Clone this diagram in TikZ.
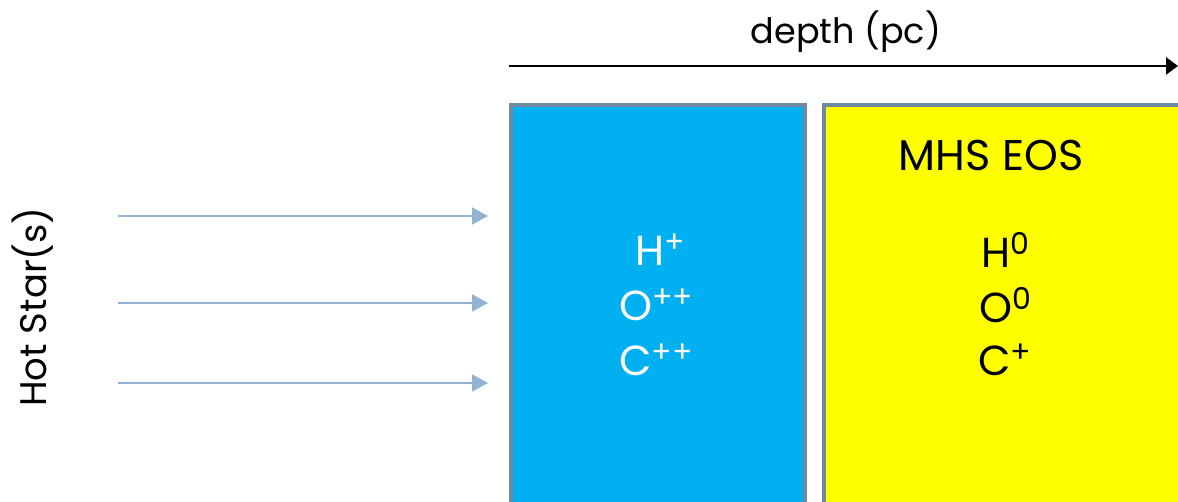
\documentclass[tikz,border=0pt]{standalone}
\usepackage{fontspec}
\setmainfont{Poppins}
\usetikzlibrary{arrows.meta}
\definecolor{layerblue}{HTML}{00B0F0}
\definecolor{layeryellow}{HTML}{FFFF00}
\definecolor{layeredge}{HTML}{6F8AA0}
\definecolor{raycol}{HTML}{93B3D3}
\newcommand{\chg}[1]{\raisebox{13pt}{\fontsize{30}{33}\fontseries{l}\selectfont #1}}
\tikzset{
  layer/.style={draw=layeredge, line width=4pt},
  ray/.style={draw=raycol, line width=2pt, -{Triangle[length=16pt,width=17pt]}},
  axis/.style={draw=black, line width=2.5pt, -{Triangle[length=12pt,width=17pt]}},
  lbl/.style={font=\fontsize{35}{40}\selectfont, inner sep=0pt},
  ion/.style={font=\fontsize{42}{47}\selectfont, inner sep=0pt, align=center},
}
\begin{document}
\begin{tikzpicture}[x=1pt, y=-1pt]
\useasboundingbox (0,0) rectangle (1178,501);
\clip (0,0) rectangle (1178,501);
% ionised and neutral layers
\path[layer, fill=layerblue] (511,105) rectangle (805,540);
\path[layer, fill=layeryellow] (824,105) rectangle (1220,540);
% depth axis
\coordinate (ax0) at (509,66);
\coordinate (ax1) at (1178,66);
\draw[axis] (ax0) -- (ax1);
\node[lbl] (depth) at (846,32) {depth (pc)};
% source label and incoming radiation
\node[lbl, font=\fontsize{37}{42}\selectfont, rotate=90] (star) at (33,307) {Hot Star(s)};
\coordinate (r1a) at (118,216); \coordinate (r1b) at (488,216);
\coordinate (r2a) at (118,303); \coordinate (r2b) at (488,303);
\coordinate (r3a) at (118,383); \coordinate (r3b) at (488,383);
\draw[ray] (r1a) -- (r1b);
\draw[ray] (r2a) -- (r2b);
\draw[ray] (r3a) -- (r3b);
% ion species
\node[ion, text=white] (hii) at (660,250) {H\chg{+}};
\node[ion, text=white] (oiii) at (656,305) {O\chg{++}};
\node[ion, text=white] (ciii) at (656,360) {C\chg{++}};
\node[lbl, font=\fontsize{43}{48}\selectfont] (mhs) at (991,155) {MHS EOS};
\node[ion] (hi) at (1005,250) {H\chg{0}};
\node[ion] (oi) at (1005,305) {O\chg{0}};
\node[ion] (cii) at (1005,360) {C\chg{+}};
\end{tikzpicture}
\end{document}
